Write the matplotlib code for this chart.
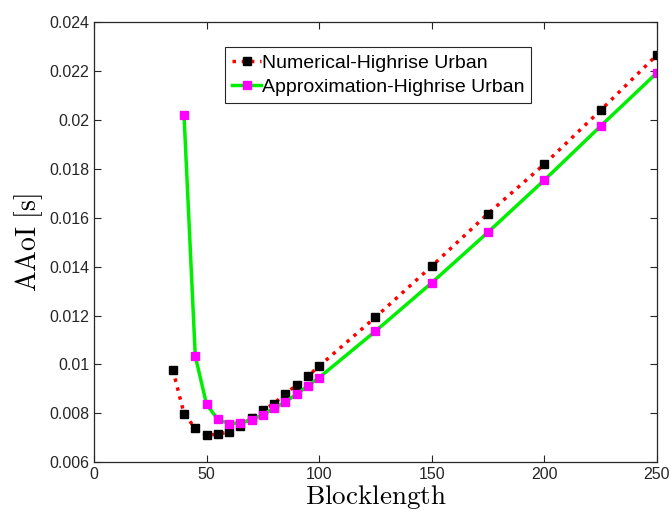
import numpy as np
import matplotlib
matplotlib.use("Agg")
import matplotlib.pyplot as plt

# Data
blocklength_num = [35, 40, 45, 50, 55, 60, 65, 70, 75, 80, 85, 90, 95, 100,
                   125, 150, 175, 200, 225, 250]
aaoi_num = [0.00979, 0.00799, 0.00738, 0.00710, 0.00715, 0.00724, 0.00750,
            0.00780, 0.00813, 0.00840, 0.00881, 0.00915, 0.00952, 0.00993,
            0.01193, 0.01402, 0.01617, 0.01819, 0.02040, 0.02266]

blocklength_apx = [40, 45, 50, 55, 60, 65, 70, 75, 80, 85, 90, 95, 100,
                   125, 150, 175, 200, 225, 250]
aaoi_apx = [0.02020, 0.01034, 0.00837, 0.00775, 0.00758, 0.00761, 0.00772,
            0.00795, 0.00820, 0.00847, 0.00878, 0.00912, 0.00946,
            0.01136, 0.01334, 0.01541, 0.01754, 0.01975, 0.02193]

xticks = [0, 50, 100, 150, 200, 250]
yticks = [0.006, 0.008, 0.01, 0.012, 0.014, 0.016, 0.018, 0.02, 0.022, 0.024]
ytick_labels = ["0.006", "0.008", "0.01", "0.012", "0.014", "0.016",
                "0.018", "0.02", "0.022", "0.024"]

plt.rcParams["font.family"] = ["Liberation Sans", "DejaVu Sans"]
plt.rcParams["mathtext.fontset"] = "cm"

fig = plt.figure(figsize=(6.71, 5.17), dpi=100)
ax = fig.add_axes([0.140, 0.106, 0.839, 0.851])

ax.plot(blocklength_num, aaoi_num, color="red", linestyle=":", linewidth=2.5,
        marker="s", markersize=6, markerfacecolor="black",
        markeredgecolor="black", label="Numerical-Highrise Urban")
ax.plot(blocklength_apx, aaoi_apx, color="#00ee00", linestyle="-", linewidth=2.5,
        marker="s", markersize=6, markerfacecolor="#ff00ff",
        markeredgecolor="#ff00ff", label="Approximation-Highrise Urban")

ax.set_xlim(0, 250)
ax.set_ylim(0.006, 0.024)
ax.set_xticks(xticks)
ax.set_yticks(yticks)
ax.set_yticklabels(ytick_labels)
ax.tick_params(direction="in", top=True, right=True, labelsize=11.5,
               length=5, width=0.8, color="#262626", labelcolor="#262626")
for s in ax.spines.values():
    s.set_color("#262626")
    s.set_linewidth(0.9)

ax.set_xlabel(r"$\mathrm{Blocklength}$", fontsize=19.5, labelpad=1)
ax.set_ylabel(r"$\mathrm{AAoI\ [s]}$", fontsize=20, labelpad=3)

leg = ax.legend(loc="upper left", bbox_to_anchor=(0.233, 0.943), fontsize=14,
                fancybox=False, framealpha=1, edgecolor="#262626",
                handlelength=1.5, handletextpad=0.05, borderpad=0.35,
                labelspacing=0.35, borderaxespad=0)
leg.get_frame().set_linewidth(0.8)

fig.savefig("out.png", dpi=100)
